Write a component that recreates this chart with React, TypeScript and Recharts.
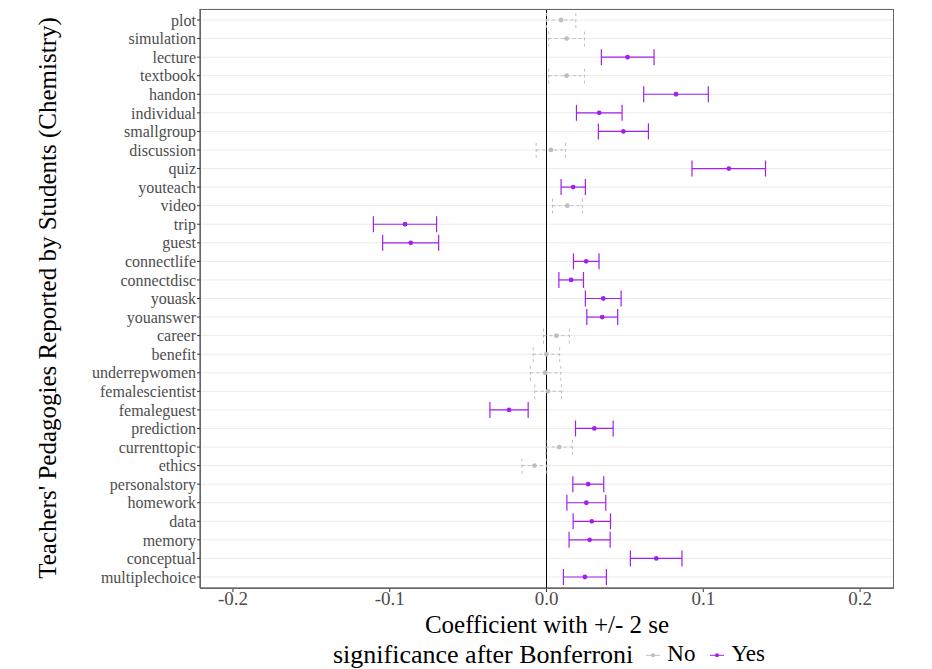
import { CartesianGrid, Cell, ComposedChart, ErrorBar, ReferenceLine, Scatter, XAxis, YAxis, ZAxis } from 'recharts'

const categories = [
  'plot', 'simulation', 'lecture', 'textbook', 'handon', 'individual', 'smallgroup', 'discussion',
  'quiz', 'youteach', 'video', 'trip', 'guest', 'connectlife', 'connectdisc', 'youask', 'youanswer',
  'career', 'benefit', 'underrepwomen', 'femalescientist', 'femaleguest', 'prediction', 'currenttopic',
  'ethics', 'personalstory', 'homework', 'data', 'memory', 'conceptual', 'multiplechoice',
]

const coef = [
  0.0093, 0.0128, 0.0517, 0.0128, 0.0826, 0.0336, 0.049, 0.0028,
  0.1163, 0.017, 0.0133, -0.0902, -0.0866, 0.0253, 0.0157, 0.0362, 0.0355,
  0.0063, 0.0, -0.0008, 0.0009, -0.0239, 0.0305, 0.0081,
  -0.0077, 0.0266, 0.0254, 0.0289, 0.0275, 0.07, 0.0245,
]

const lower = [
  -0.0001, 0.0014, 0.035, 0.0014, 0.062, 0.0191, 0.0331, -0.0066,
  0.0928, 0.0093, 0.0038, -0.1104, -0.1045, 0.0172, 0.0079, 0.0248, 0.0257,
  -0.0019, -0.0085, -0.0103, -0.0075, -0.0361, 0.0185, -0.0004,
  -0.0157, 0.0168, 0.013, 0.017, 0.0144, 0.0535, 0.0108,
]

const upper = [
  0.0187, 0.0242, 0.0686, 0.0242, 0.1032, 0.0482, 0.065, 0.0121,
  0.1397, 0.0248, 0.0229, -0.0701, -0.0688, 0.0335, 0.0236, 0.0476, 0.0454,
  0.0146, 0.0084, 0.0091, 0.0096, -0.0117, 0.0425, 0.0166,
  0.0002, 0.0365, 0.0378, 0.0408, 0.0406, 0.0864, 0.0382,
]

const significant = [
  false, false, true, false, true, true, true, false,
  true, true, false, true, true, true, true, true, true,
  false, false, false, false, true, true, false,
  false, true, true, true, true, true, true,
]

const xTicks = [-0.2, -0.1, 0, 0.1, 0.2]

const GREY = '#BEBEBE'
const PURPLE = '#A020F0'
const FONT = "'Liberation Serif', 'DejaVu Serif', serif"

const rows = categories.map((name, i) => ({
  name,
  coef: coef[i],
  errNo: significant[i] ? null : [coef[i] - lower[i], upper[i] - coef[i]],
  errYes: significant[i] ? [coef[i] - lower[i], upper[i] - coef[i]] : null,
  sig: significant[i],
}))

function LegendKey({ color }: { color: string }) {
  return (
    <svg width={16} height={10} style={{ display: 'block' }}>
      <line x1={1} y1={5} x2={15} y2={5} stroke={color} strokeWidth={1} />
      <circle cx={8} cy={5} r={2} fill={color} />
    </svg>
  )
}

export default function App() {
  return (
    <div style={{ position: 'absolute', left: 0, top: 0, width: 932, height: 669, background: '#fff', fontFamily: FONT }}>
      <ComposedChart
        width={932}
        height={669}
        layout='vertical'
        data={rows}
        margin={{ top: 9, right: 39, bottom: 0, left: 0 }}
      >
        <CartesianGrid vertical={false} stroke='#EBEBEB' strokeWidth={1} />
        <XAxis
          type='number'
          domain={[-0.221, 0.221]}
          ticks={xTicks}
          allowDataOverflow
          height={81}
          tickSize={4}
          tickMargin={0}
          tickFormatter={(v) => v.toFixed(1)}
          tick={{ fill: '#4D4D4D', fontSize: 19, fontFamily: FONT }}
          stroke='#333333'
        />
        <YAxis
          type='category'
          dataKey='name'
          width={200}
          interval={0}
          padding={{ top: 11, bottom: 11 }}
          tickSize={3}
          tickMargin={1}
          tick={{ fill: '#4D4D4D', fontSize: 16, fontFamily: FONT }}
          stroke='#333333'
        />
        <ZAxis type='number' range={[18, 18]} />
        <ReferenceLine x={0} stroke='#000000' strokeWidth={1} />
        <Scatter dataKey='coef' isAnimationActive={false}>
          {rows.map((r) => (
            <Cell key={r.name} fill={r.sig ? PURPLE : GREY} />
          ))}
          <ErrorBar dataKey='errNo' direction='x' width={8} stroke={GREY} strokeWidth={1} strokeDasharray='3 3' isAnimationActive={false} />
          <ErrorBar dataKey='errYes' direction='x' width={8} stroke={PURPLE} strokeWidth={1.2} isAnimationActive={false} />
        </Scatter>
      </ComposedChart>
      <div style={{ position: 'absolute', left: 200, top: 9, width: 692, height: 578, border: '1px solid #666', pointerEvents: 'none' }} />
      <div
        style={{
          position: 'absolute', left: 47, top: 298, transform: 'translate(-50%, -50%) rotate(-90deg)',
          whiteSpace: 'nowrap', fontSize: 25, lineHeight: 1, color: '#000',
        }}
      >
        Teachers' Pedagogies Reported by Students (Chemistry)
      </div>
      <div style={{ position: 'absolute', left: 547, top: 625, transform: 'translate(-50%, -50%)', whiteSpace: 'nowrap', fontSize: 25, lineHeight: 0.8, color: '#000' }}>
        Coefficient with +/- 2 se
      </div>
      <div style={{ position: 'absolute', left: 333, top: 655, transform: 'translateY(-50%)', whiteSpace: 'nowrap', fontSize: 26, lineHeight: 0.9, color: '#000', display: 'flex', alignItems: 'center' }}>
        <span>significance after Bonferroni</span>
        <span style={{ marginLeft: 12 }}><LegendKey color={GREY} /></span>
        <span style={{ marginLeft: 6, fontSize: 23 }}>No</span>
        <span style={{ marginLeft: 14 }}><LegendKey color={PURPLE} /></span>
        <span style={{ marginLeft: 6, fontSize: 23 }}>Yes</span>
      </div>
    </div>
  )
}
